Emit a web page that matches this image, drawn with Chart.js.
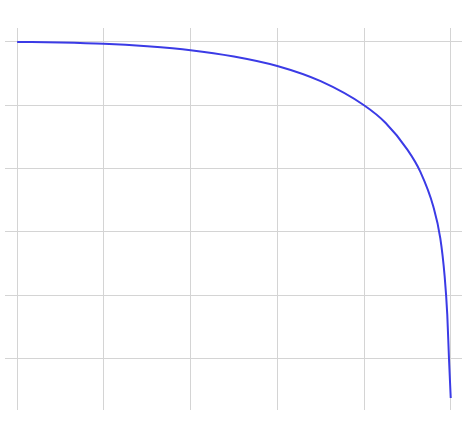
<!DOCTYPE html>
<html>
<head>
<script src="https://cdn.jsdelivr.net/npm/chart.js@4"></script>
<style>
  html, body { margin: 0; padding: 0; background: #fff; }
  #wrap { width: 465px; height: 426px; }
</style>
</head>
<body>
<div id="wrap"><canvas id="c"></canvas></div>
<script>
// values
const xs = [0, 0.5, 1, 1.5, 2, 2.5, 3, 3.5, 4, 4.25, 4.5, 4.65, 4.8, 4.88, 4.93, 4.96, 4.98, 5];
const ys = [5, 4.99, 4.97, 4.93, 4.87, 4.77, 4.62, 4.38, 4.0, 3.72, 3.3, 2.95, 2.4, 1.9, 1.3, 0.7, 0.0, -0.62];
const xTicks = [0, 1, 2, 3, 4, 5];
const yTicks = [0, 1, 2, 3, 4, 5];

const points = xs.map((x, i) => ({ x: x, y: ys[i] }));
const gridColor = '#d4d4d4';

new Chart(document.getElementById('c'), {
  type: 'line',
  data: {
    datasets: [{
      data: points,
      borderColor: '#3b3be6',
      borderWidth: 2,
      pointRadius: 0,
      cubicInterpolationMode: 'monotone',
      fill: false
    }]
  },
  options: {
    responsive: true,
    maintainAspectRatio: false,
    animation: false,
    layout: { padding: { left: 5, right: 3, top: 28, bottom: 16 } },
    plugins: { legend: { display: false }, tooltip: { enabled: false } },
    scales: {
      x: {
        type: 'linear', min: -0.14, max: 5.13,
        afterBuildTicks: a => { a.ticks = xTicks.map(v => ({ value: v })); },
        ticks: { display: false },
        grid: { color: gridColor, drawTicks: false },
        border: { display: false }
      },
      y: {
        type: 'linear', min: -0.81, max: 5.22,
        afterBuildTicks: a => { a.ticks = yTicks.map(v => ({ value: v })); },
        ticks: { display: false },
        grid: { color: gridColor, drawTicks: false },
        border: { display: false }
      }
    }
  }
});
</script>
</body>
</html>
